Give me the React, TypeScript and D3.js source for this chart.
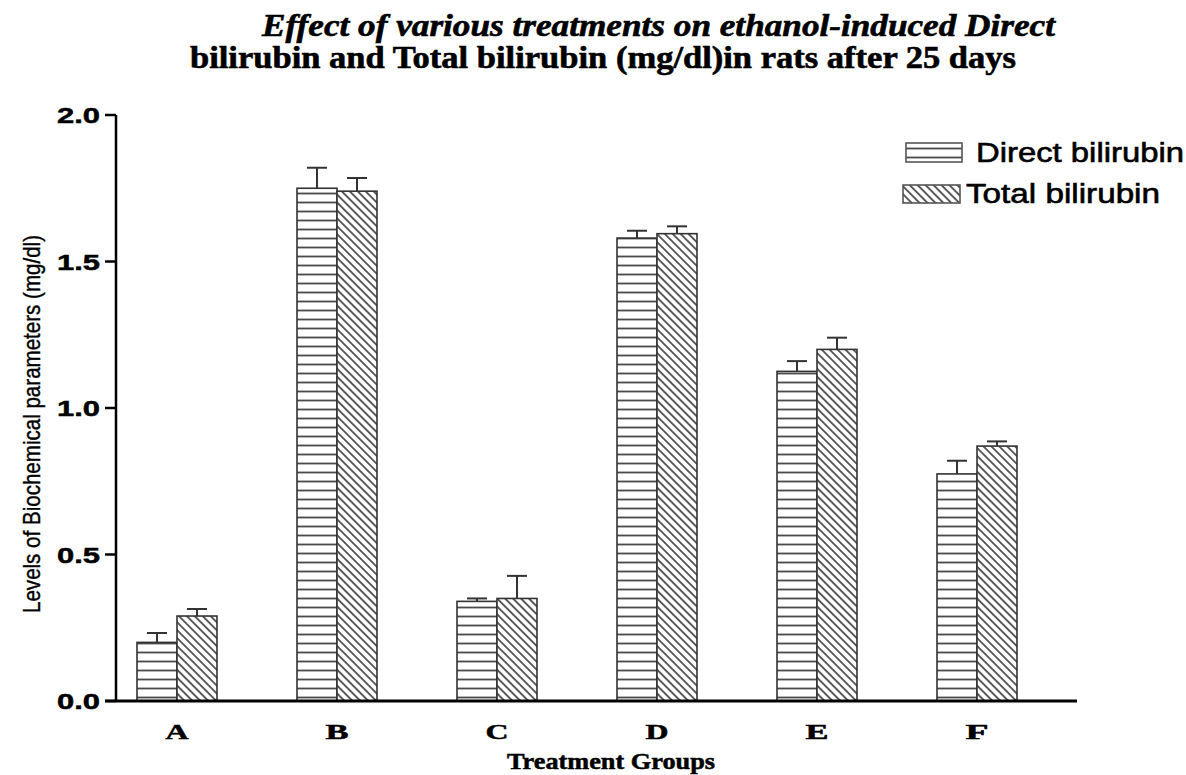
import React from "react";
import * as d3 from "d3";

const groups = ["A", "B", "C", "D", "E", "F"];
const seriesNames = ["Direct bilirubin", "Total bilirubin"];
const directValues = [0.2, 1.75, 0.34, 1.58, 1.125, 0.775];
const directErrors = [0.032, 0.07, 0.01, 0.025, 0.035, 0.045];
const totalValues = [0.29, 1.74, 0.35, 1.595, 1.2, 0.87];
const totalErrors = [0.024, 0.045, 0.077, 0.025, 0.04, 0.016];
const yTicks = [0, 0.5, 1.0, 1.5, 2.0];

const titleLines = [
  "Effect of various treatments on ethanol-induced Direct",
  "bilirubin and Total bilirubin (mg/dl)in rats after 25 days",
];

const W = 1186;
const H = 775;

const App = () => {
  const x0 = d3.scaleBand().domain(groups).range([97, 1057]).paddingInner(0.5).paddingOuter(0.25);
  const x1 = d3.scaleBand().domain(seriesNames).range([0, x0.bandwidth()]);
  const y = d3.scaleLinear().domain([0, 2]).range([701, 115]);
  const fmt = d3.format(".1f");

  const rows = groups.map((g, i) => ({
    group: g,
    items: [
      { name: seriesNames[0], value: directValues[i], err: directErrors[i], fill: "url(#hlines)" },
      { name: seriesNames[1], value: totalValues[i], err: totalErrors[i], fill: "url(#diag)" },
    ],
  }));

  const serif = "'Liberation Serif', 'Times New Roman', serif";
  const sans = "'Liberation Sans', Arial, sans-serif";

  return (
    <div style={{ position: "absolute", left: 0, top: 0 }}>
      <svg width={W} height={H} style={{ display: "block", background: "#fff" }}>
        <defs>
          <pattern id="hlines" patternUnits="userSpaceOnUse" width="9" height="9">
            <rect width="9" height="9" fill="#fff" />
            <line x1="0" x2="9" y1="4.5" y2="4.5" stroke="#4a4a4a" strokeWidth="1.8" />
          </pattern>
          <pattern id="diag" patternUnits="userSpaceOnUse" width="5.6" height="5.6" patternTransform="rotate(45)">
            <rect width="5.6" height="5.6" fill="#fff" />
            <line x1="0" x2="5.6" y1="2.8" y2="2.8" stroke="#3a3a3a" strokeWidth="1.6" />
          </pattern>
        </defs>

        {/* title */}
        <text x={262} y={36} fontFamily={serif} fontWeight="bold" fontStyle="italic" fontSize={31}
          textLength={793} lengthAdjust="spacingAndGlyphs" stroke="#000" strokeWidth={0.6} fill="#000">{titleLines[0]}</text>
        <text x={190} y={68} fontFamily={serif} fontWeight="bold" fontSize={31}
          textLength={826} lengthAdjust="spacingAndGlyphs" stroke="#000" strokeWidth={0.6} fill="#000">{titleLines[1]}</text>

        {/* bars */}
        {rows.map((r) => (
          <g key={r.group} transform={`translate(${x0(r.group)},0)`}>
            {r.items.map((d) => {
              const bx = x1(d.name) as number;
              const cx = bx + x1.bandwidth() / 2;
              return (
                <g key={d.name}>
                  <line x1={cx} x2={cx} y1={y(d.value)} y2={y(d.value + d.err)} stroke="#333" strokeWidth={2} />
                  <line x1={cx - 10} x2={cx + 10} y1={y(d.value + d.err)} y2={y(d.value + d.err)} stroke="#333" strokeWidth={2} />
                  <rect x={bx} y={y(d.value)} width={x1.bandwidth()} height={y(0) - y(d.value)}
                    fill={d.fill} stroke="#333" strokeWidth={1.6} />
                </g>
              );
            })}
          </g>
        ))}

        {/* y axis */}
        <line x1={116} x2={116} y1={y(2)} y2={y(0)} stroke="#000" strokeWidth={2.5} />
        {yTicks.map((t) => (
          <g key={t}>
            <line x1={105} x2={116} y1={y(t)} y2={y(t)} stroke="#000" strokeWidth={2.5} />
            <text x={100} y={y(t) + 8} textAnchor="end" fontFamily={sans}
              fontWeight="bold" fontSize={22} textLength={43} lengthAdjust="spacingAndGlyphs"
              stroke="#000" strokeWidth={0.5} fill="#000">{fmt(t)}</text>
          </g>
        ))}
        <text transform={`translate(40,${424}) rotate(-90)`} textAnchor="middle"
          fontFamily={sans} fontSize={24} textLength={378}
          lengthAdjust="spacingAndGlyphs" stroke="#000" strokeWidth={0.4} fill="#000">Levels of Biochemical parameters (mg/dl)</text>

        {/* x axis */}
        <line x1={105} x2={1077} y1={y(0)} y2={y(0)} stroke="#000" strokeWidth={3} />
        {groups.map((g) => (
          <text key={g} x={(x0(g) as number) + x0.bandwidth() / 2} y={739} textAnchor="middle"
            fontFamily={serif} fontWeight="bold" fontSize={21} textLength={23}
            lengthAdjust="spacingAndGlyphs" stroke="#000" strokeWidth={0.5} fill="#000">{g}</text>
        ))}
        <text x={611} y={769} textAnchor="middle" fontFamily={serif} fontWeight="bold"
          fontSize={23} textLength={208} lengthAdjust="spacingAndGlyphs" stroke="#000" strokeWidth={0.5}
          fill="#000">Treatment Groups</text>

        {/* legend */}
        <rect x={906} y={143} width={56} height={19} fill="url(#hlines)" stroke="#555" strokeWidth={1.6} />
        <text x={976} y={162} fontFamily={sans} fontSize={27} textLength={208}
          lengthAdjust="spacingAndGlyphs" stroke="#000" strokeWidth={0.6} fill="#000">{seriesNames[0]}</text>
        <rect x={903} y={185} width={57} height={18} fill="url(#diag)" stroke="#555" strokeWidth={1.6} />
        <text x={966} y={203} fontFamily={sans} fontSize={27} textLength={194}
          lengthAdjust="spacingAndGlyphs" stroke="#000" strokeWidth={0.6} fill="#000">{seriesNames[1]}</text>
      </svg>
    </div>
  );
};

export default App;
